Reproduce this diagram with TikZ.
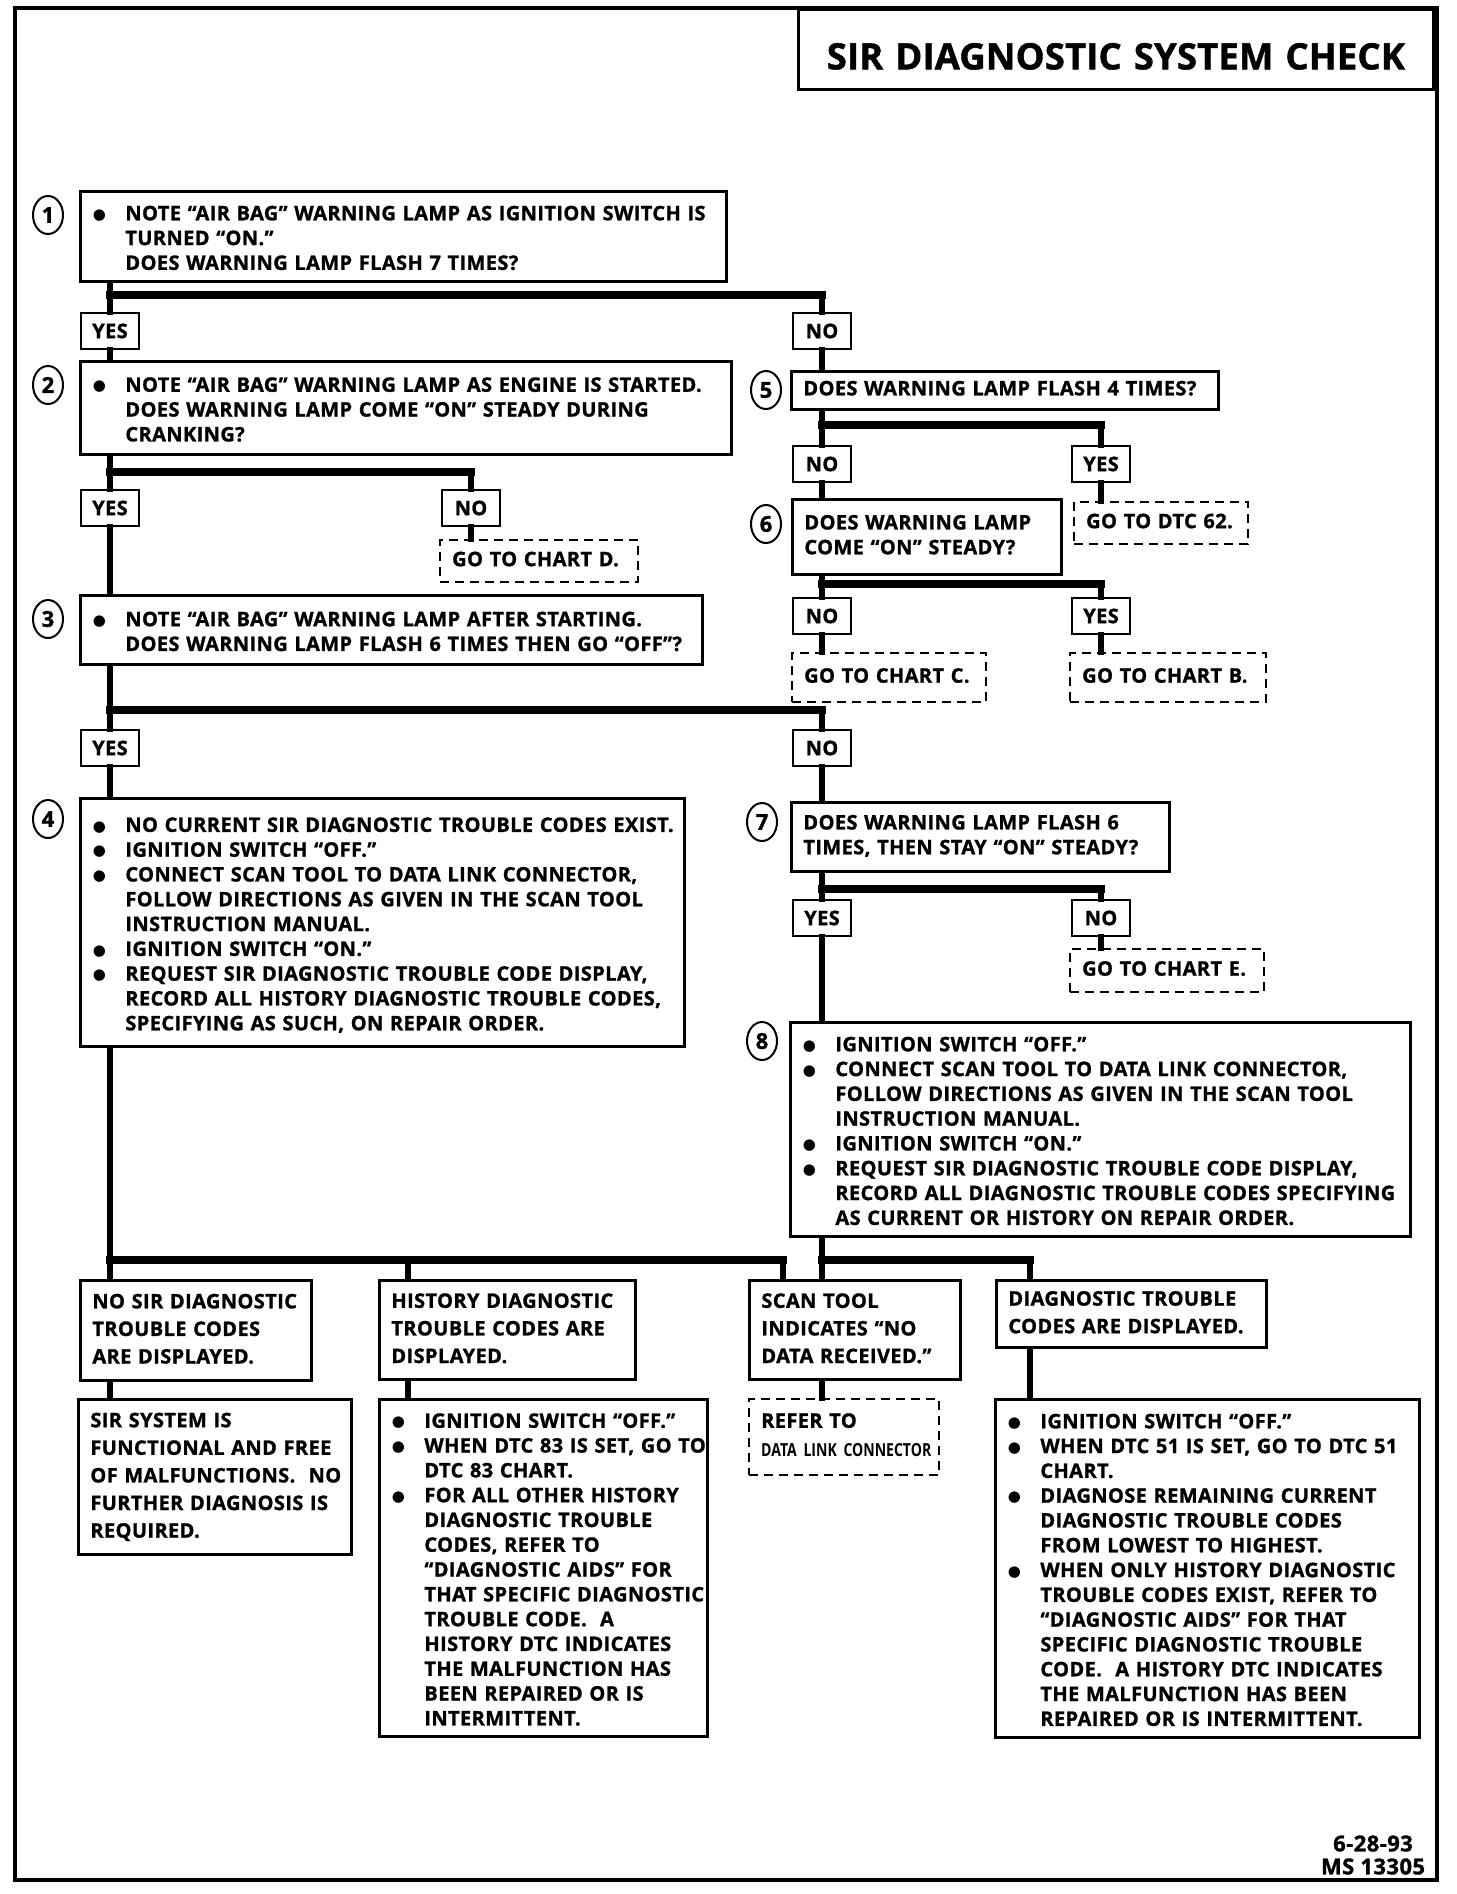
\documentclass[tikz,border=0pt]{standalone}
\usepackage{fontspec}
\setmainfont{Open Sans}[LetterSpace=2, BoldFeatures={FakeBold=1.2}]
\newfontfamily\titlef{Open Sans}[LetterSpace=0.5, BoldFeatures={FakeBold=1.2}]
\newfontfamily\condf{Open Sans}[FakeStretch=0.78]
\newfontfamily\dejav{DejaVu Sans}
\usetikzlibrary{shapes.geometric}
\setlength\parindent{0pt}
\newcommand\bodyfnt{\bfseries\fontsize{10}{12.4}\selectfont\lineskip=0pt\relax}
\newcommand\loosefnt{\bfseries\fontsize{10}{13.8}\selectfont\lineskip=0pt\relax}
\newcommand\titlefnt{\titlef\bfseries\fontsize{18.2}{22}\selectfont}
\newcommand\tlines[1]{\begin{tabular}[t]{@{}l@{}}#1\end{tabular}}
\newcommand\bdot{\raisebox{0.4pt}{\dejav\fontsize{7.5}{8}\selectfont ●}}
\newcommand\bitem[1]{\par\noindent\makebox[16.5pt][l]{\hspace{0.2pt}\bdot}\tlines{#1}\par}
\newcommand\bx[7][]{%
  \pgfmathsetmacro\bxw{(#5-#3)/2-12}%
  \pgfmathsetmacro\bxh{(#6-#4)/2}%
  \node[box,#1,text width=\bxw pt,minimum height=\bxh pt] (#2) at (#3,#4) {#7};}
\tikzset{
  box/.style={draw, line width=1.4pt, anchor=north west, inner xsep=6pt, inner ysep=1pt, align=left, font=\bodyfnt},
  dbox/.style={box, line width=1.2pt, dash pattern=on 4.5pt off 3pt},
  loose/.style={font=\loosefnt},
  yn/.style={draw, line width=1.4pt, minimum width=29pt, minimum height=18pt, inner sep=0pt, font=\bodyfnt},
  numc/.style={draw, ellipse, line width=1pt, minimum width=15pt, minimum height=19pt, inner sep=0pt, font=\bfseries\fontsize{11}{12}\selectfont},
  vl/.style={line width=3pt, line cap=rect},
  hb/.style={line width=4.2pt, line cap=rect}
}
\begin{document}
\begin{tikzpicture}[x=0.5pt, y=-0.5pt]
\useasboundingbox (0,0) rectangle (1456,1894);
\draw[line width=2.4pt] (15,8) rectangle (1437,1880);

% title
\bx[font=\titlefnt, align=center, text height=20pt, text depth=0pt]{title}{797}{8}{1432}{88}{SIR DIAGNOSTIC SYSTEM CHECK}

% step boxes
\bx{b1}{79}{190}{725}{280}{\bitem{NOTE “AIR BAG” WARNING LAMP AS IGNITION SWITCH IS\\TURNED “ON.”\\DOES WARNING LAMP FLASH 7 TIMES?}}
\bx{b2}{79}{360}{730}{453}{\bitem{NOTE “AIR BAG” WARNING LAMP AS ENGINE IS STARTED.\\DOES WARNING LAMP COME “ON” STEADY DURING\\CRANKING?}}
\bx{b3}{79}{594}{701}{663}{\bitem{NOTE “AIR BAG” WARNING LAMP AFTER STARTING.\\DOES WARNING LAMP FLASH 6 TIMES THEN GO “OFF”?}}
\bx{b4}{79}{797}{683}{1045}{\bitem{NO CURRENT SIR DIAGNOSTIC TROUBLE CODES EXIST.}\bitem{IGNITION SWITCH “OFF.”}\bitem{CONNECT SCAN TOOL TO DATA LINK CONNECTOR,\\FOLLOW DIRECTIONS AS GIVEN IN THE SCAN TOOL\\INSTRUCTION MANUAL.}\bitem{IGNITION SWITCH “ON.”}\bitem{REQUEST SIR DIAGNOSTIC TROUBLE CODE DISPLAY,\\RECORD ALL HISTORY DIAGNOSTIC TROUBLE CODES,\\SPECIFYING AS SUCH, ON REPAIR ORDER.}}
\bx{b5}{790}{370}{1217}{408}{\tlines{DOES WARNING LAMP FLASH 4 TIMES?}}
\bx{b6}{791}{498}{1060}{573}{\tlines{DOES WARNING LAMP\\COME “ON” STEADY?}}
\bx{b7}{790}{801}{1168}{870}{\tlines{DOES WARNING LAMP FLASH 6\\TIMES, THEN STAY “ON” STEADY?}}
\bx{b8}{789}{1021}{1409}{1235}{\bitem{IGNITION SWITCH “OFF.”}\bitem{CONNECT SCAN TOOL TO DATA LINK CONNECTOR,\\FOLLOW DIRECTIONS AS GIVEN IN THE SCAN TOOL\\INSTRUCTION MANUAL.}\bitem{IGNITION SWITCH “ON.”}\bitem{REQUEST SIR DIAGNOSTIC TROUBLE CODE DISPLAY,\\RECORD ALL DIAGNOSTIC TROUBLE CODES SPECIFYING\\AS CURRENT OR HISTORY ON REPAIR ORDER.}}

% dashed targets
\bx[dbox]{chartD}{439}{539}{637}{581}{\tlines{GO TO CHART D.}}
\bx[dbox]{dtc62}{1073}{501}{1247}{543}{\tlines{GO TO DTC 62.}}
\bx[dbox]{chartC}{791}{652}{985}{701}{\tlines{GO TO CHART C.}}
\bx[dbox]{chartB}{1069}{652}{1265}{701}{\tlines{GO TO CHART B.}}
\bx[dbox]{chartE}{1069}{948}{1263}{991}{\tlines{GO TO CHART E.}}

% bottom rows
\bx[loose]{nosir}{79}{1279}{310}{1379}{\tlines{NO SIR DIAGNOSTIC\\TROUBLE CODES\\ARE DISPLAYED.}}
\bx[loose]{hist}{378}{1279}{634}{1378}{\tlines{HISTORY DIAGNOSTIC\\TROUBLE CODES ARE\\DISPLAYED.}}
\bx[loose]{scan}{748}{1279}{959}{1378}{\tlines{SCAN TOOL\\INDICATES “NO\\DATA RECEIVED.”}}
\bx[loose]{dtc}{995}{1279}{1265}{1346}{\tlines{DIAGNOSTIC TROUBLE\\CODES ARE DISPLAYED.}}
\bx[loose]{sirok}{77}{1398}{350}{1553}{\tlines{SIR SYSTEM IS\\FUNCTIONAL AND FREE\\OF MALFUNCTIONS.\ \ NO\\FURTHER DIAGNOSIS IS\\REQUIRED.}}
\bx{histd}{378}{1398}{706}{1735}{\bitem{IGNITION SWITCH “OFF.”}\bitem{WHEN DTC 83 IS SET, GO TO\\DTC 83 CHART.}\bitem{FOR ALL OTHER HISTORY\\DIAGNOSTIC TROUBLE\\CODES, REFER TO\\“DIAGNOSTIC AIDS” FOR\\THAT SPECIFIC DIAGNOSTIC\\TROUBLE CODE.\ \ A\\HISTORY DTC INDICATES\\THE MALFUNCTION HAS\\BEEN REPAIRED OR IS\\INTERMITTENT.}}
\bx[dbox]{refer}{748}{1398}{938}{1474}{\tlines{REFER TO\\[2pt]{\condf\bfseries\fontsize{9}{10}\selectfont DATA LINK CONNECTOR}}}
\bx{dtcd}{994}{1398}{1418}{1736}{\bitem{IGNITION SWITCH “OFF.”}\bitem{WHEN DTC 51 IS SET, GO TO DTC 51\\CHART.}\bitem{DIAGNOSE REMAINING CURRENT\\DIAGNOSTIC TROUBLE CODES\\FROM LOWEST TO HIGHEST.}\bitem{WHEN ONLY HISTORY DIAGNOSTIC\\TROUBLE CODES EXIST, REFER TO\\“DIAGNOSTIC AIDS” FOR THAT\\SPECIFIC DIAGNOSTIC TROUBLE\\CODE.\ \ A HISTORY DTC INDICATES\\THE MALFUNCTION HAS BEEN\\REPAIRED OR IS INTERMITTENT.}}

% numbered circles
\node[numc] (c1) at (48,215) {1};
\node[numc] (c2) at (48,385) {2};
\node[numc] (c3) at (48,619) {3};
\node[numc] (c4) at (48,819) {4};
\node[numc] (c5) at (766,390) {5};
\node[numc] (c6) at (766,524) {6};
\node[numc] (c7) at (762,822) {7};
\node[numc] (c8) at (762,1041) {8};

% yes / no labels
\node[yn] (y1) at (110,331) {YES};
\node[yn] (n1) at (822,331) {NO};
\node[yn] (n5) at (822,464) {NO};
\node[yn] (y5) at (1101,464) {YES};
\node[yn] (y2) at (110,508) {YES};
\node[yn] (n2) at (471,508) {NO};
\node[yn] (n6) at (822,616) {NO};
\node[yn] (y6) at (1101,616) {YES};
\node[yn] (y3) at (110,748) {YES};
\node[yn] (n3) at (822,748) {NO};
\node[yn] (y7) at (822,918) {YES};
\node[yn] (n7) at (1101,918) {NO};

% junction points
\coordinate (j1) at (110,295);
\coordinate (j5) at (822,425);
\coordinate (j2) at (110,472);
\coordinate (j6) at (822,584);
\coordinate (j3) at (110,710);
\coordinate (j7) at (822,889);
\coordinate (jb) at (110,1260);
\coordinate (jh) at (408,1260);
\coordinate (js) at (783,1260);
\coordinate (jr) at (822,1260);
\coordinate (jd) at (1030,1260);

% connectors
\draw[vl] (b1.south -| y1) -- (y1.north);
\draw[hb] (j1) -- (j1 -| n1);
\draw[vl] (j1 -| n1) -- (n1.north);
\draw[vl] (y1.south) -- (y1.south |- b2.north);
\draw[vl] (n1.south) -- (n1.south |- b5.north);
\draw[vl] (b5.south -| n5) -- (n5.north);
\draw[hb] (j5) -- (j5 -| y5);
\draw[vl] (j5 -| y5) -- (y5.north);
\draw[vl] (y5.south) -- (y5.south |- dtc62.north);
\draw[vl] (n5.south) -- (n5.south |- b6.north);
\draw[vl] (b2.south -| y2) -- (y2.north);
\draw[hb] (j2) -- (j2 -| n2);
\draw[vl] (j2 -| n2) -- (n2.north);
\draw[vl] (n2.south) -- (n2.south |- chartD.north);
\draw[vl] (y2.south) -- (y2.south |- b3.north);
\draw[vl] (b6.south -| n6) -- (n6.north);
\draw[hb] (j6) -- (j6 -| y6);
\draw[vl] (j6 -| y6) -- (y6.north);
\draw[vl] (n6.south) -- (n6.south |- chartC.north);
\draw[vl] (y6.south) -- (y6.south |- chartB.north);
\draw[vl] (b3.south -| y3) -- (y3.north);
\draw[hb] (j3) -- (j3 -| n3);
\draw[vl] (j3 -| n3) -- (n3.north);
\draw[vl] (y3.south) -- (y3.south |- b4.north);
\draw[vl] (n3.south) -- (n3.south |- b7.north);
\draw[vl] (b7.south -| y7) -- (y7.north);
\draw[hb] (j7) -- (j7 -| n7);
\draw[vl] (j7 -| n7) -- (n7.north);
\draw[vl] (n7.south) -- (n7.south |- chartE.north);
\draw[vl] (y7.south) -- (y7.south |- b8.north);
\draw[vl] (b4.south -| jb) -- (nosir.north -| jb);
\draw[hb] (jb) -- (js);
\draw[vl] (jh) -- (hist.north -| jh);
\draw[vl] (js) -- (scan.north -| js);
\draw[vl] (b8.south -| jr) -- (scan.north -| jr);
\draw[hb] (jr) -- (jd);
\draw[vl] (jd) -- (dtc.north -| jd);
\draw[vl] (nosir.south -| jb) -- (sirok.north -| jb);
\draw[vl] (hist.south -| jh) -- (histd.north -| jh);
\draw[vl] (scan.south -| jr) -- (refer.north -| jr);
\draw[vl] (dtc.south -| jd) -- (dtcd.north -| jd);

% footer
\node[align=center, inner sep=0pt, font=\bfseries\fontsize{11}{11.5}\selectfont] (foot) at (1373,1855) {6-28-93\\MS 13305};
\end{tikzpicture}
\end{document}
